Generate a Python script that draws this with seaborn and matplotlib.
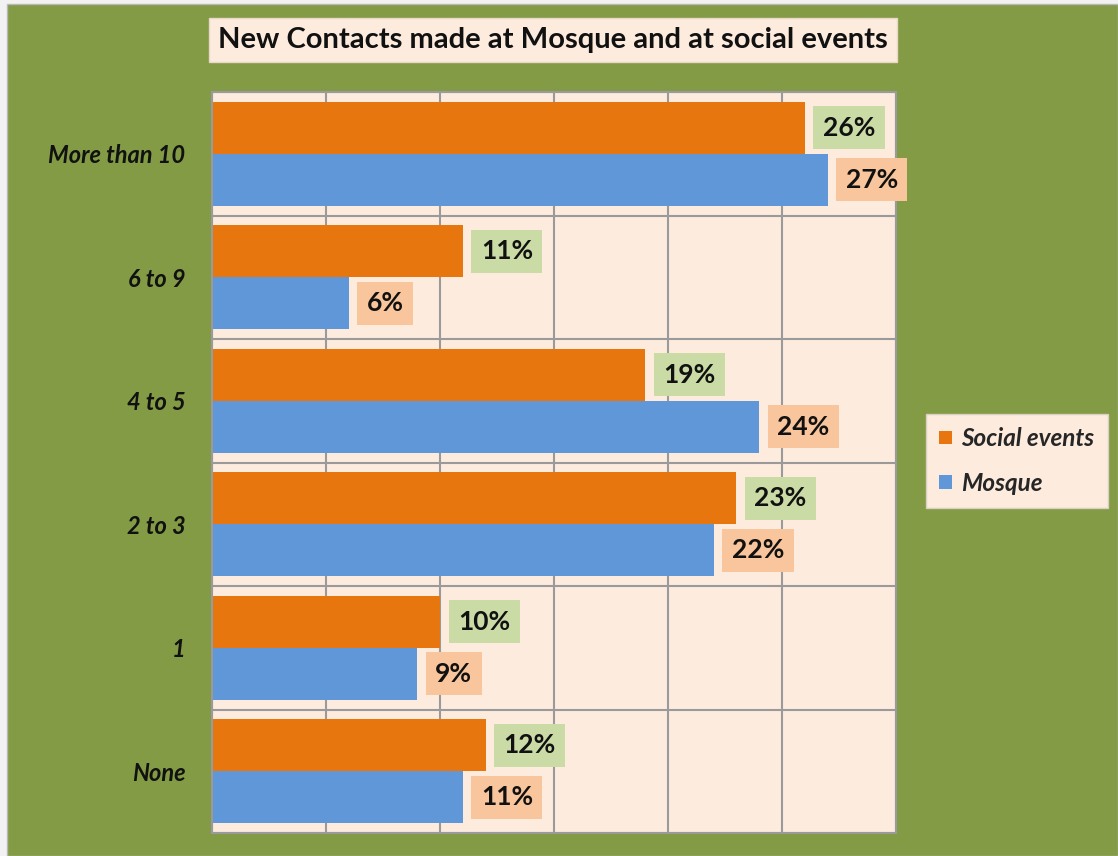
import matplotlib
matplotlib.use("Agg")
import matplotlib.pyplot as plt
import seaborn as sns
import pandas as pd
from matplotlib.ticker import FixedLocator, NullFormatter
from matplotlib.patches import Patch, Rectangle

categories = ["More than 10", "6 to 9", "4 to 5", "2 to 3", "1", "None"]
social_events = [26, 11, 19, 23, 10, 12]
mosque = [27, 6, 24, 22, 9, 11]
series_names = ["Social events", "Mosque"]

GREEN = "#839b45"
PEACH = "#fdebde"
ORANGE = "#e8760f"
BLUE = "#5f97d8"
LBL_GREEN = "#cadba6"
LBL_PEACH = "#f9c59c"
GRID = "#9a9a9a"

df = pd.DataFrame({
    "cat": categories * 2,
    "val": social_events + mosque,
    "series": [series_names[0]] * len(categories) + [series_names[1]] * len(categories),
})

sns.set_style("white")
plt.rcParams["font.family"] = ["Lato", "DejaVu Sans"]

W, H = 1118, 856
fig = plt.figure(figsize=(W / 100, H / 100), dpi=100, facecolor="#f2f2f2")
bg = Rectangle((7 / W, 0), 1 - 7 / W, 1 - 4 / H, transform=fig.transFigure,
               facecolor=GREEN, edgecolor="#b8b8b8", linewidth=1, zorder=-10)
fig.patches.append(bg)

ax = fig.add_axes([212 / W, 1 - 833 / H, (896 - 212) / W, (833 - 92) / H])
ax.set_facecolor(PEACH)

sns.barplot(data=df, y="cat", x="val", hue="series", order=categories,
            hue_order=series_names, palette=[ORANGE, BLUE], orient="h",
            width=0.84, saturation=1, ax=ax, legend=False, edgecolor="none")

ax.set_xlim(0, 30)
ax.set_xticks([0, 5, 10, 15, 20, 25, 30])
ax.set_xticklabels([])
ax.tick_params(axis="x", length=0)
ax.set_xlabel("")
ax.set_ylabel("")
ax.set_ylim(len(categories) - 0.5, -0.5)

ax.yaxis.set_minor_locator(FixedLocator([i - 0.5 for i in range(len(categories) + 1)]))
ax.yaxis.set_minor_formatter(NullFormatter())
ax.tick_params(axis="y", which="major", length=0, pad=19)
ax.tick_params(axis="y", which="minor", length=10, color=GRID, width=1.5)
for lbl in ax.get_yticklabels():
    lbl.set_fontweight("bold")
    lbl.set_fontstyle("italic")
    lbl.set_fontsize(17)
    lbl.set_color("#111111")

ax.set_axisbelow(True)
ax.grid(axis="x", which="major", color=GRID, linewidth=1.5)
ax.grid(axis="y", which="minor", color=GRID, linewidth=1.5)
ax.grid(axis="y", which="major", visible=False)
for s in ax.spines.values():
    s.set_color(GRID)
    s.set_linewidth(1.5)

# value labels
for cont, bgc in zip(ax.containers, [LBL_GREEN, LBL_PEACH]):
    for rect in cont:
        w = rect.get_width()
        yc = rect.get_y() + rect.get_height() / 2
        ax.annotate(f"{int(round(w))}%", xy=(w, yc), xytext=(13, 0),
                    textcoords="offset points", ha="left", va="center",
                    fontsize=19, fontweight="bold", color="#111111",
                    bbox=dict(boxstyle="square,pad=0.36", facecolor=bgc, edgecolor="none"),
                    clip_on=False, zorder=5)

# title
fig.text(553 / W, 1 - 40 / H, "New Contacts made at Mosque and at social events",
         ha="center", va="center", fontsize=21, fontweight="bold", color="#111111",
         bbox=dict(boxstyle="square,pad=0.3", facecolor=PEACH, edgecolor="#e8d8c8"))

# legend
handles = [Patch(facecolor=ORANGE, edgecolor="none"), Patch(facecolor=BLUE, edgecolor="none")]
leg = fig.legend(handles, series_names, loc="center left",
                 bbox_to_anchor=(926 / W, 1 - 461 / H),
                 frameon=True, fancybox=False, facecolor=PEACH, edgecolor="#d8d0c0",
                 prop={"weight": "bold", "style": "italic", "size": 17.5},
                 handlelength=0.5, handleheight=0.5, handletextpad=0.4,
                 labelspacing=0.9, borderpad=0.55, borderaxespad=0)
leg.get_frame().set_linewidth(1)
leg.get_frame().set_alpha(1)

fig.savefig("out.png", dpi=100, facecolor=fig.get_facecolor())
